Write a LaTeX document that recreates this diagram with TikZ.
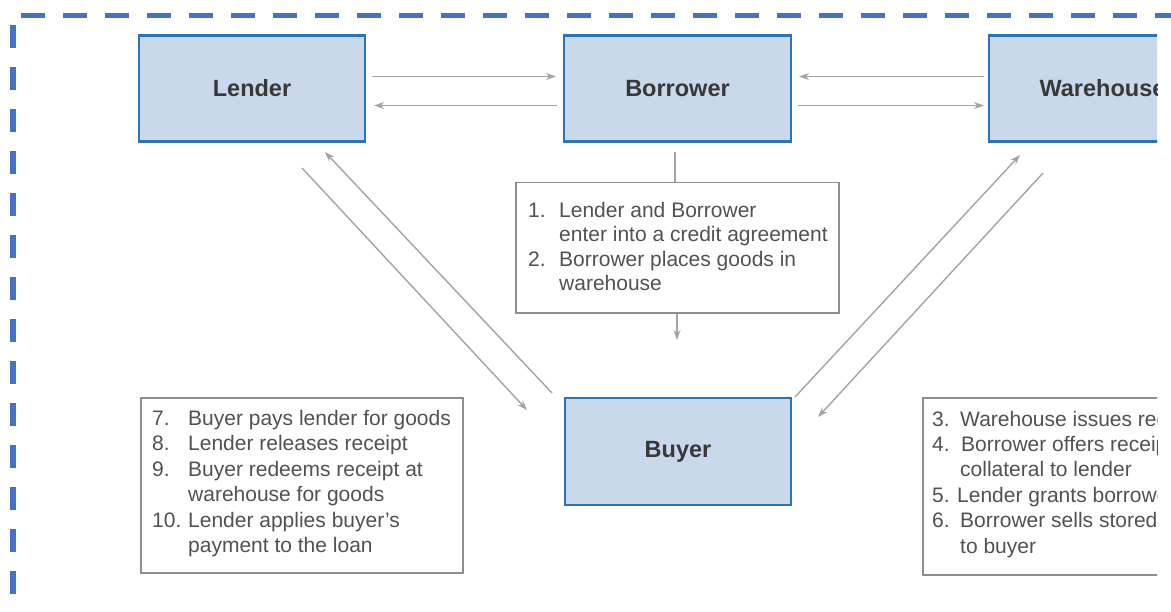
\documentclass[tikz,border=0pt]{standalone}
\usepackage{fontspec}
\setmainfont{Liberation Sans}
\usetikzlibrary{arrows.meta}
\definecolor{boxfill}{HTML}{C9D8EA}
\definecolor{boxline}{HTML}{2E74B5}
\definecolor{arr}{HTML}{A3A3A3}
\definecolor{frameblue}{HTML}{4472C4}
\definecolor{txt}{HTML}{525252}
\definecolor{ttl}{HTML}{383838}
\definecolor{tbline}{HTML}{8E8E8E}
\tikzset{
  party/.style={draw=boxline, line width=2.2pt, fill=boxfill, minimum width=226pt, minimum height=106pt, inner sep=0pt, font=\fontsize{23.5}{28}\selectfont\bfseries, text=ttl},
  infobox/.style={draw=tbline, line width=1.8pt, fill=white, inner sep=0pt},
  ln/.style={anchor=base west, inner sep=0pt, font=\fontsize{21}{24}\selectfont, text=txt},
  flow/.style={draw=arr, line width=1.4pt, -{Stealth[length=10pt,width=7pt]}},
  plain/.style={draw=arr, line width=1.4pt},
  frame/.style={draw=frameblue, line width=5.5pt},
}
\begin{document}
\begin{tikzpicture}[x=1pt,y=-1pt]
\useasboundingbox (0,0) rectangle (1171,611);
% dashed frame
\coordinate (ft1) at (21,15.5);
\coordinate (ft2) at (1171,15.5);
\coordinate (fl1) at (13,25);
\coordinate (fl2) at (13,611);
\draw[frame, dash pattern=on 24pt off 18pt] (ft1) -- (ft2);
\draw[frame, dash pattern=on 23pt off 19pt] (fl1) -- (fl2);
\begin{scope}
\clip (0,0) rectangle (1157,611);
% parties
\node[party] (lender) at (252,88.5) {Lender};
\node[party, minimum width=227pt] (borrower) at (677.5,88.5) {Borrower};
\node[party, minimum width=227pt] (warehouse) at (1102.5,88.5) {Warehouse};
\node[party, minimum height=107pt] (buyer) at (678,451.5) {Buyer};
% info boxes
\node[infobox, minimum width=323pt, minimum height=130.5pt] (info1) at (677.5,247.75) {};
\node[infobox, minimum width=322pt, minimum height=175pt] (info2) at (302,485.5) {};
\node[infobox, minimum width=330pt, minimum height=177pt] (info3) at (1088,486.5) {};
% horizontal arrows
\draw[flow] ([xshift=6pt,yshift=12pt]lender.east) -- ([xshift=-7pt,yshift=12pt]borrower.west);
\draw[flow] ([xshift=-6pt,yshift=-17pt]borrower.west) -- ([xshift=8pt,yshift=-17pt]lender.east);
\draw[flow] ([xshift=-4pt,yshift=12pt]warehouse.west) -- ([xshift=7pt,yshift=12pt]borrower.east);
\draw[flow] ([xshift=6pt,yshift=-17pt]borrower.east) -- ([xshift=-4pt,yshift=-17pt]warehouse.west);
% vertical
\coordinate (v1) at (675,152);
\coordinate (v2) at (677,340);
\draw[plain] (v1) -- (v1 |- info1.north);
\draw[flow] (v2 |- info1.south) -- (v2);
% diagonals
\coordinate (a1) at (552,393);
\coordinate (a2) at (325,152);
\coordinate (b1) at (302,168);
\coordinate (b2) at (527,410);
\coordinate (c1) at (795,397);
\coordinate (c2) at (1020,155);
\coordinate (d1) at (1043,173);
\coordinate (d2) at (818,417);
\draw[flow] (a1) -- (a2);
\draw[flow] (b1) -- (b2);
\draw[flow] (c1) -- (c2);
\draw[flow] (d1) -- (d2);
% box 1 text
\node[ln] (n1) at (528,217) {1.};
\node[ln] (t1a) at (559,217) {Lender and Borrower};
\node[ln] (t1b) at (559,241.5) {enter into a credit agreement};
\node[ln] (n2) at (528,266) {2.};
\node[ln] (t2a) at (559,266) {Borrower places goods in};
\node[ln] (t2b) at (559,290.5) {warehouse};
% box 7-10 text
\node[ln] (n7) at (152,425) {7.};
\node[ln] (t7) at (188,425) {Buyer pays lender for goods};
\node[ln] (n8) at (152,450.5) {8.};
\node[ln] (t8) at (188,450.5) {Lender releases receipt};
\node[ln] (n9) at (152,476) {9.};
\node[ln] (t9a) at (188,476) {Buyer redeems receipt at};
\node[ln] (t9b) at (188,501.5) {warehouse for goods};
\node[ln] (n10) at (152,527) {10.};
\node[ln] (t10a) at (188,527) {Lender applies buyer’s};
\node[ln] (t10b) at (188,552.5) {payment to the loan};
% box 3-6 text
\node[ln] (n3) at (932,426) {3.};
\node[ln] (t3) at (960,426) {Warehouse issues receipt};
\node[ln] (n4) at (932,451.4) {4.};
\node[ln] (t4a) at (961,451.4) {Borrower offers receipt as};
\node[ln] (t4b) at (960,476.8) {collateral to lender};
\node[ln] (n5) at (932,502.2) {5.};
\node[ln] (t5) at (957,502.2) {Lender grants borrower loan};
\node[ln] (n6) at (932,527.6) {6.};
\node[ln] (t6a) at (960,527.6) {Borrower sells stored goods};
\node[ln] (t6b) at (960,553) {to buyer};
\end{scope}
\end{tikzpicture}
\end{document}
